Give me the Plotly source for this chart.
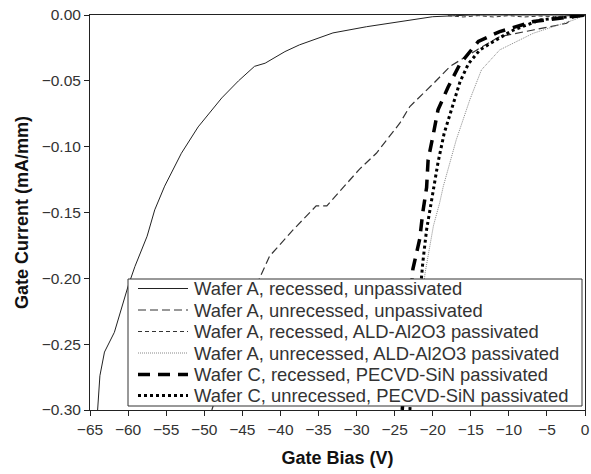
import plotly.graph_objects as go

# Wafer A, recessed, unpassivated
a_rec_unp_x = [-64.0, -63.7, -63.1, -61.8, -60.0, -59.1, -57.5, -56.5, -55.2, -53.0, -50.8, -47.7, -45.5, -43.4, -42.0, -39.4, -37.5, -33.1, -28.7, -24.3, -20.0, -17.0, -15.0, -10.0, -5.0, 0.0]
a_rec_unp_y = [-0.300, -0.274, -0.256, -0.241, -0.206, -0.191, -0.168, -0.148, -0.130, -0.105, -0.085, -0.063, -0.050, -0.039, -0.0366, -0.0278, -0.0227, -0.0136, -0.0089, -0.0050, -0.0013, -0.0005, 0.0, 0.0, 0.0, 0.0]

# Wafer A, unrecessed, unpassivated
a_unr_unp_x = [-49.0, -46.5, -44.5, -42.7, -41.4, -38.3, -35.3, -33.9, -29.6, -27.4, -24.3, -23.0, -19.9, -17.7, -14.2, -11.2, -6.8, -2.4, -1.5, 0.0]
a_unr_unp_y = [-0.300, -0.255, -0.225, -0.1995, -0.183, -0.163, -0.145, -0.145, -0.117, -0.105, -0.082, -0.0695, -0.052, -0.039, -0.0265, -0.0164, -0.0114, -0.0063, -0.002, 0.0]

# Wafer A, recessed, ALD-Al2O3 passivated
a_rec_ald_x = [-18.0, -16.0, -14.0, -12.0, -10.0, -8.0, -6.0, -4.0, -2.0, 0.0]
a_rec_ald_y = [-0.0005, -0.0015, -0.0005, -0.0015, -0.0005, -0.0015, -0.0008, -0.0012, -0.0005, 0.0]

# Wafer A, unrecessed, ALD-Al2O3 passivated
a_unr_ald_x = [-23.0, -21.0, -19.9, -19.1, -18.6, -16.9, -15.1, -13.6, -11.2, -6.8, -1.5, -0.8, 0.0]
a_unr_ald_y = [-0.300, -0.196, -0.160, -0.143, -0.130, -0.0947, -0.064, -0.0417, -0.0265, -0.0139, -0.0038, -0.002, 0.0]

# Wafer C, recessed, PECVD-SiN passivated
c_rec_x = [-24.0, -22.6, -21.7, -21.3, -20.8, -20.6, -19.9, -19.3, -18.0, -16.4, -14.0, -11.2, -6.8, -3.3, 0.0]
c_rec_y = [-0.300, -0.193, -0.170, -0.150, -0.131, -0.110, -0.090, -0.072, -0.055, -0.037, -0.020, -0.0126, -0.005, -0.0025, 0.0]

# Wafer C, unrecessed, PECVD-SiN passivated
c_unr_x = [-23.0, -21.5, -21.3, -20.8, -20.1, -19.3, -18.5, -17.5, -16.4, -15.3, -13.8, -12.0, -9.4, -5.9, -2.0, 0.0]
c_unr_y = [-0.300, -0.197, -0.188, -0.163, -0.138, -0.112, -0.090, -0.072, -0.0505, -0.037, -0.0265, -0.020, -0.0114, -0.0038, -0.001, 0.0]

names = [
    "Wafer A, recessed, unpassivated",
    "Wafer A, unrecessed, unpassivated",
    "Wafer A, recessed, ALD-Al2O3 passivated",
    "Wafer A, unrecessed, ALD-Al2O3 passivated",
    "Wafer C, recessed, PECVD-SiN passivated",
    "Wafer C, unrecessed, PECVD-SiN passivated",
]

styles = [
    dict(color="#222", width=1, dash="solid"),
    dict(color="#333", width=1.2, dash="8px,4px"),
    dict(color="#333", width=1, dash="4px,3px"),
    dict(color="#888", width=1, dash="1px,1px"),
    dict(color="#000", width=3.5, dash="12px,8px"),
    dict(color="#000", width=3, dash="3px,3px"),
]

xs_all = [a_rec_unp_x, a_unr_unp_x, a_rec_ald_x, a_unr_ald_x, c_rec_x, c_unr_x]
ys_all = [a_rec_unp_y, a_unr_unp_y, a_rec_ald_y, a_unr_ald_y, c_rec_y, c_unr_y]

fig = go.Figure()
for xs, ys, ln, nm in zip(xs_all, ys_all, styles, names):
    fig.add_trace(go.Scatter(x=xs, y=ys, mode="lines", name=nm, line=ln, showlegend=False))

# --- legend box (drawn in paper coordinates, tighter rows like the original) ---
L, R, T, B = 90, 585, 15, 410  # plot area in px
W, H = R - L, B - T
def px(x):
    return (x - L) / W
def py(y):
    return (B - y) / H

box = dict(x0=128, x1=582, y0=279, y1=406)
fig.add_shape(type="rect", xref="paper", yref="paper",
              x0=px(box["x0"]), x1=px(box["x1"]), y0=py(box["y1"]), y1=py(box["y0"]),
              fillcolor="white", line=dict(color="#333", width=1), layer="above")
row_y = [288.5, 310, 331.5, 353, 374.5, 395.5]
font_family = "Liberation Sans, Arial, sans-serif"
for i, (nm, ln) in enumerate(zip(names, styles)):
    yy = py(row_y[i])
    fig.add_shape(type="line", xref="paper", yref="paper",
                  x0=px(138), x1=px(188), y0=yy, y1=yy,
                  line=ln, layer="above")
    fig.add_annotation(xref="paper", yref="paper", x=px(192), y=yy,
                       xanchor="left", yanchor="middle", showarrow=False,
                       text=nm, font=dict(size=18.4, color="#333", family=font_family))

fig.update_layout(
    width=591, height=474,
    margin=dict(l=L, r=591 - R, t=T, b=474 - B),
    paper_bgcolor="white", plot_bgcolor="white",
    font=dict(family=font_family, color="#222", size=15),
    showlegend=False,
    xaxis=dict(
        range=[-65, 0], dtick=5, tick0=0, automargin=False,
        showgrid=False, zeroline=False,
        showline=True, linecolor="#222", linewidth=1, mirror=True,
        ticks="outside", ticklen=5, tickcolor="#222",
        tickfont=dict(size=15.5, color="#333"),
        title=dict(text="<b>Gate Bias (V)</b>", font=dict(size=18, color="#111"), standoff=14),
    ),
    yaxis=dict(
        range=[-0.30, 0.0], dtick=0.05, tickformat=".2f", automargin=False,
        showgrid=False, zeroline=False,
        showline=True, linecolor="#222", linewidth=1, mirror=True,
        ticks="outside", ticklen=5, tickcolor="#222",
        tickfont=dict(size=15.5, color="#333"),
        title=dict(text="<b>Gate Current (mA/mm)</b>", font=dict(size=18, color="#111"), standoff=8),
    ),
)

fig.write_html("out.html")
